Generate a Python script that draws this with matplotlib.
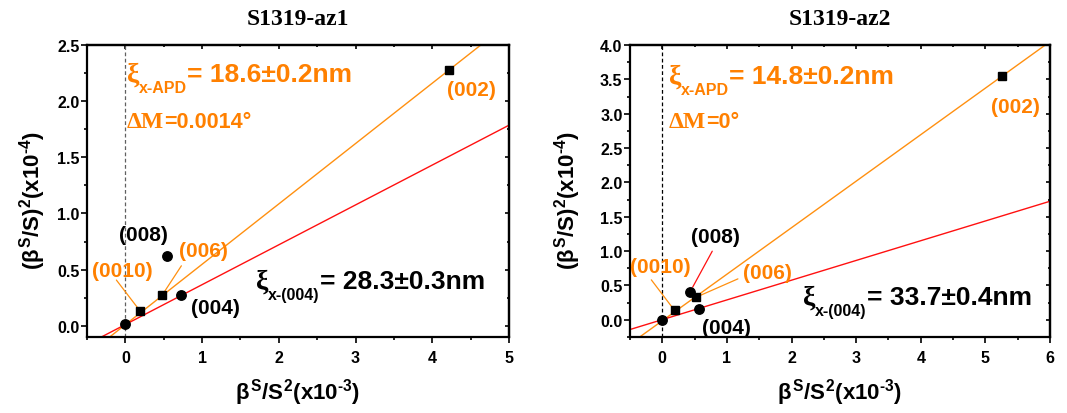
import matplotlib
matplotlib.use('Agg')
import matplotlib.pyplot as plt
from matplotlib.ticker import MultipleLocator

plt.rcParams['font.family'] = ['Liberation Sans', 'DejaVu Sans']
plt.rcParams['font.weight'] = 'bold'
plt.rcParams['mathtext.fontset'] = 'custom'
plt.rcParams['mathtext.rm'] = 'Liberation Sans:bold'
plt.rcParams['mathtext.it'] = 'Liberation Sans:bold'
plt.rcParams['mathtext.bf'] = 'Liberation Sans:bold'
plt.rcParams['axes.unicode_minus'] = False

# ---------------- data ----------------
titles = ['S1319-az1', 'S1319-az2']

# panel 1 (az1)
az1_circle_x = [0.0, 0.73, 0.543]        # origin, (004), (008)
az1_circle_y = [0.02, 0.276, 0.623]
az1_square_x = [0.196, 0.48, 4.224]      # (0010), (006), (002)
az1_square_y = [0.128, 0.273, 2.28]
az1_fit_apd = (0.5375, 0.010)            # slope, intercept
az1_fit_004 = (0.355, 0.011)
az1_xi_apd = '= 18.6±0.2nm'
az1_dM = '=0.0014°'
az1_xi_004 = '= 28.3±0.3nm'

# panel 2 (az2)
az2_circle_x = [0.0, 0.562, 0.433]       # origin, (004), (008)
az2_circle_y = [0.0, 0.16, 0.412]
az2_square_x = [0.19, 0.526, 5.253]      # (0010), (006), (002)
az2_square_y = [0.136, 0.33, 3.549]
az2_fit_apd = (0.677, -0.013)
az2_fit_004 = (0.2872, 0.0026)
az2_xi_apd = '= 14.8±0.2nm'
az2_dM = '=0°'
az2_xi_004 = '= 33.7±0.4nm'

ORANGE = '#FF8000'
LINE_ORANGE = '#FF9010'
RED = '#FF1010'

fig = plt.figure(figsize=(10.67, 4.14), dpi=100)
ax1 = fig.add_axes([87/1067, 1-338/414, 422/1067, 292/414])
ax2 = fig.add_axes([630/1067, 1-338/414, 420/1067, 292/414])

SERIF = ['Liberation Serif', 'DejaVu Serif']
SANS = ['Liberation Sans', 'DejaVu Sans']


def rich(ax, x, y, pieces):
    prev = None
    for txt, size, dy, fam, color in pieces:
        if prev is None:
            t = ax.annotate(txt, xy=(x, y), xycoords='data', xytext=(0, dy),
                            textcoords='offset points', fontsize=size, family=fam,
                            color=color, fontweight='bold', va='baseline', ha='left')
        else:
            t = ax.annotate(txt, xy=(1, y), xycoords=(prev, 'data'), xytext=(0, dy),
                            textcoords='offset points', fontsize=size, family=fam,
                            color=color, fontweight='bold', va='baseline', ha='left')
        prev = t


def style_axes(ax, xlim, ylim, ymajor, dash_color):
    ax.set_xlim(*xlim)
    ax.set_ylim(*ylim)
    ax.xaxis.set_major_locator(MultipleLocator(1))
    ax.xaxis.set_minor_locator(MultipleLocator(0.5))
    ax.yaxis.set_major_locator(MultipleLocator(ymajor))
    ax.yaxis.set_minor_locator(MultipleLocator(ymajor / 2))
    for s in ax.spines.values():
        s.set_linewidth(1.6)
    ax.tick_params(which='both', direction='out', width=1.2)
    ax.tick_params(which='major', length=4.2)
    ax.tick_params(which='minor', length=2.2)
    ax.tick_params(axis='y', labelsize=11.5, pad=1.2)
    ax.tick_params(axis='x', labelsize=11.5, pad=5.0)
    sx = ax.secondary_xaxis('top')
    sx.xaxis.set_major_locator(MultipleLocator(1))
    sx.xaxis.set_minor_locator(MultipleLocator(0.5))
    sx.tick_params(which='both', direction='in', labeltop=False, width=1.2)
    sx.tick_params(which='major', length=3)
    sx.tick_params(which='minor', length=1.5)
    sx.spines['top'].set_linewidth(1.6)
    sy = ax.secondary_yaxis('right')
    sy.yaxis.set_major_locator(MultipleLocator(ymajor))
    sy.yaxis.set_minor_locator(MultipleLocator(ymajor / 2))
    sy.tick_params(which='both', direction='in', labelright=False, width=1.2)
    sy.tick_params(which='major', length=3)
    sy.tick_params(which='minor', length=1.5)
    sy.spines['right'].set_linewidth(1.6)
    ax.axvline(0, color=dash_color, lw=0.9, ls=(0, (3, 2)), zorder=1)


def draw_panel(ax, title, cx, cy, sx_, sy_, fit_apd, fit_004, xlim, ylim, ymajor,
               dash_color, xi_apd, dM, xi_004, pos, ylab_x):
    style_axes(ax, xlim, ylim, ymajor, dash_color)
    ax.axline((0, fit_apd[1]), slope=fit_apd[0], color=LINE_ORANGE, lw=1.0, zorder=2)
    ax.axline((0, fit_004[1]), slope=fit_004[0], color=RED, lw=1.0, zorder=2)
    ax.plot(cx, cy, 'o', color='black', ms=6.8, ls='none', zorder=4)
    ax.plot(sx_, sy_, 's', color='black', ms=6.4, ls='none', zorder=4)

    # title and axis labels
    ax.text(0.5, 1.072, title, transform=ax.transAxes, ha='center', va='baseline',
            fontsize=17, family=SERIF, fontweight='bold')
    ax.text(0.5, -0.212, '$\\beta^{S}/S^{2}(x10^{\u20103})$', transform=ax.transAxes,
            ha='center', va='baseline', fontsize=16)
    ax.text(ylab_x, 0.47, '$(\\beta^{S}/S)^{2}(x10^{\u20104})$', transform=ax.transAxes,
            ha='center', va='center', rotation=90, fontsize=16)

    # annotations
    rich(ax, pos['apd'][0], pos['apd'][1], [
        ('ξ', 20, 0, SERIF, ORANGE),
        ('x-APD', 11.5, -8, SANS, ORANGE),
        (xi_apd, 19, 0, SANS, ORANGE)])
    rich(ax, pos['dM'][0], pos['dM'][1], [
        ('ΔM', 17, 0, SERIF, ORANGE),
        (dM, 15.5, 0, SANS, ORANGE)])
    rich(ax, pos['004txt'][0], pos['004txt'][1], [
        ('ξ', 20, 0, SERIF, 'black'),
        ('x-(004)', 11.5, -8, SANS, 'black'),
        (xi_004, 19, 0, SANS, 'black')])

    labels = [('(002)', ORANGE), ('(008)', 'black'), ('(006)', ORANGE),
              ('(0010)', ORANGE), ('(004)', 'black')]
    for (txt, col) in labels:
        p = pos[txt]
        ax.text(p[0], p[1], txt, color=col, fontsize=15, fontweight='bold',
                ha='center', va='center', zorder=5)

    for start, target, col in pos['leaders']:
        ax.annotate('', xy=target, xytext=start,
                    arrowprops=dict(arrowstyle='-', color=col, lw=0.9,
                                    shrinkA=0, shrinkB=3.5), zorder=3)


pos1 = {
    'apd': (0.015, 2.18), 'dM': (0.015, 1.77), '004txt': (1.70, 0.34),
    '(002)': (4.51, 2.10), '(008)': (0.23, 0.81), '(006)': (1.02, 0.67),
    '(0010)': (-0.04, 0.49), '(004)': (1.18, 0.16),
    'leaders': [((-0.117, 0.407), (az1_square_x[0], az1_square_y[0]), LINE_ORANGE),
                ((0.73, 0.534), (az1_square_x[1], az1_square_y[1]), LINE_ORANGE)],
}
pos2 = {
    'apd': (0.10, 3.45), 'dM': (0.10, 2.80), '004txt': (2.17, 0.23),
    '(002)': (5.47, 3.11), '(008)': (0.82, 1.21), '(006)': (1.62, 0.69),
    '(0010)': (-0.03, 0.78), '(004)': (0.99, -0.11),
    'leaders': [((-0.17, 0.582), (az2_square_x[0], az2_square_y[0]), LINE_ORANGE),
                ((0.773, 0.999), (az2_circle_x[2], az2_circle_y[2]), RED),
                ((1.17, 0.596), (az2_square_x[1], az2_square_y[1]), LINE_ORANGE)],
}

draw_panel(ax1, titles[0], az1_circle_x, az1_circle_y, az1_square_x, az1_square_y,
           az1_fit_apd, az1_fit_004, (-0.5, 5), (-0.1, 2.5), 0.5, '#606060',
           az1_xi_apd, az1_dM, az1_xi_004, pos1, -0.13)
draw_panel(ax2, titles[1], az2_circle_x, az2_circle_y, az2_square_x, az2_square_y,
           az2_fit_apd, az2_fit_004, (-0.5, 6), (-0.25, 4.0), 0.5, 'black',
           az2_xi_apd, az2_dM, az2_xi_004, pos2, -0.148)

fig.savefig('out.png', dpi=100)
